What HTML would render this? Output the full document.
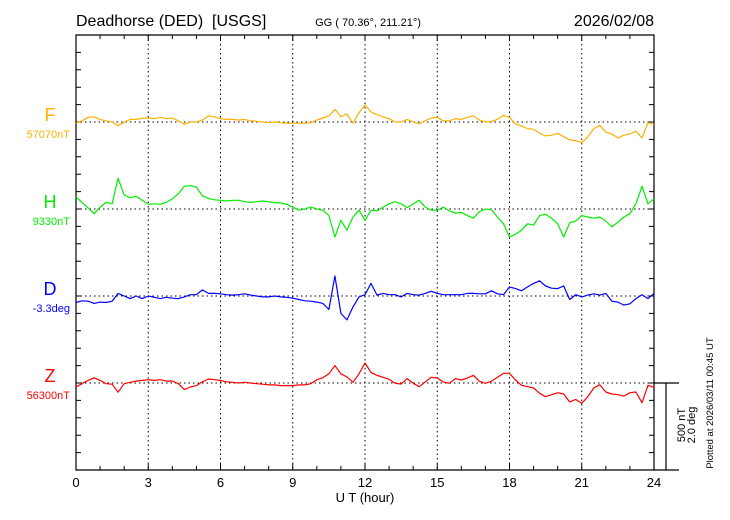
<!DOCTYPE html>
<html><head><meta charset="utf-8"><style>
html,body{margin:0;padding:0;background:#fff;}
svg{display:block;font-family:"Liberation Sans",sans-serif;}
</style></head><body>
<svg id="chart" width="730" height="520" viewBox="0 0 730 520">
<text x="76" y="26" font-size="16">Deadhorse (DED)&#160;&#160;[USGS]</text>
<text x="368" y="26" font-size="11" text-anchor="middle">GG ( 70.36°, 211.21°)</text>
<text x="654" y="26" font-size="16" text-anchor="end">2026/02/08</text>
<g id="grid"></g>
<g id="axes"></g>
<g id="series"></g>
<g id="labels"></g>
<text x="365" y="502" font-size="13" text-anchor="middle">U T (hour)</text>
<text transform="translate(685,425) rotate(-90)" font-size="11" text-anchor="middle">500 nT</text>
<text transform="translate(695,425) rotate(-90)" font-size="11" text-anchor="middle">2.0 deg</text>
<text transform="translate(713,403) rotate(-90)" font-size="9.5" text-anchor="middle">Plotted at 2026/03/11 00:45 UT</text>
</svg>
<script>
const xTickLabels = ["0","3","6","9","12","15","18","21","24"];
const channelNames = ["F","H","D","Z"];
const channelBaseLabels = ["57070nT","9330nT","-3.3deg","56300nT"];
const stepHours = 0.25;
const fValues = [-7,7,27,30,15,7,0,-21,-2,15,15,21,23,19,27,19,23,7,-13,0,0,11,35,30,19,15,15,11,15,7,4,0,-4,0,-4,-7,-7,-7,-7,-4,11,23,35,73,30,46,-7,53,98,58,42,30,19,0,0,15,0,-11,7,23,27,7,7,19,15,27,35,11,0,4,15,38,27,-11,-23,-38,-42,-65,-80,-76,-65,-85,-103,-107,-119,-85,-38,-19,-58,-69,-92,-76,-69,-53,-92,-4,-15];
const hValues = [69,38,7,-27,11,38,30,177,80,65,73,50,27,30,27,38,58,88,131,134,126,76,61,53,50,46,50,50,42,38,42,46,42,35,35,27,11,-7,0,11,0,-7,-38,-161,-65,-122,-46,-7,-65,-7,-11,11,30,42,30,7,30,50,11,-7,-7,11,-11,-23,-19,-38,-53,-15,0,-4,-46,-85,-161,-145,-122,-85,-92,-38,-30,-53,-85,-161,-80,-69,-38,-46,-53,-46,-69,-103,-76,-46,-27,30,131,30,58];
const dValues = [-0.15,-0.11,-0.12,-0.17,-0.14,-0.15,-0.12,0.06,0,-0.06,0,-0.06,0,-0.03,-0.06,-0.03,-0.05,-0.06,-0.02,0.03,0.03,0.14,0.06,0.06,0.05,0.03,0.02,0.03,0.05,0.02,0,-0.02,-0.02,0,-0.02,-0.03,-0.05,-0.08,-0.11,-0.12,-0.14,-0.17,-0.31,0.46,-0.40,-0.55,-0.25,-0.02,0.03,0.29,0.02,0.06,0.03,0.03,-0.02,0.06,0.03,0.02,0.06,0.11,0.06,0.03,0.03,0.03,0.03,0.06,0.06,0.05,0.05,0.12,0.05,0.03,0.21,0.17,0.12,0.21,0.29,0.35,0.23,0.18,0.17,0.23,-0.08,0.03,-0.02,0.02,0.05,0.02,0.06,-0.12,-0.14,-0.21,-0.18,-0.06,0.03,-0.06,0.06];
const zValues = [-23,-4,15,30,15,-4,-7,-53,-4,4,11,15,19,15,19,11,11,-4,-38,-23,-15,7,23,19,15,7,4,0,4,0,-4,-7,-11,-11,-15,-15,-15,-11,-11,-4,19,30,53,100,53,35,4,53,115,61,44,33,21,-2,-6,25,-2,-21,6,33,29,6,-2,25,17,29,44,10,-2,10,33,56,56,17,-13,-21,-29,-59,-79,-67,-56,-63,-109,-94,-117,-79,-29,-10,-52,-63,-67,-75,-56,-52,-113,-13,-25];
const seriesList = [fValues,hValues,dValues,zValues];
const seriesColors = ["#ffb000","#00ee00","#0000ff","#ff0000"];
const seriesScale = [500,500,2.0,500]; // units per 5 ticks

const NS="http://www.w3.org/2000/svg";
const X0=76,X1=654,Y0=35,Y1=470;
const tickStep=(Y1-Y0)/25;
const baselines=[Y0+5*tickStep,Y0+10*tickStep,Y0+15*tickStep,Y0+20*tickStep];
function xScale(h){return X0+(X1-X0)*h/24;}
function yScale(i,v){return baselines[i]-v/seriesScale[i]*5*tickStep;}
function mk(tag,attrs,parent){const e=document.createElementNS(NS,tag);for(const k in attrs)e.setAttribute(k,attrs[k]);parent.appendChild(e);return e;}
const grid=document.getElementById('grid'),axes=document.getElementById('axes'),ser=document.getElementById('series'),lab=document.getElementById('labels');

for(let k=1;k<8;k++){const x=xScale(k*3);
 const l=mk('line',{x1:x,y1:Y0,x2:x,y2:Y1,stroke:'#000','stroke-width':1,'stroke-dasharray':'1.5,3'},grid);
 
 }
baselines.forEach(function(b){
 const l=mk('line',{x1:X0,y1:b,x2:X1,y2:b,stroke:'#000','stroke-width':1,'stroke-dasharray':'1.5,3'},grid);
 
 });

const frame=mk('path',{d:`M${X0},${Y0}H${X1}V${Y1}H${X0}Z`,fill:'none',stroke:'#000','stroke-width':1.2},axes);


const ext=mk('path',{d:`M${X1},${Y1}H679M${X1},${baselines[3]}H679M666,${baselines[3]}V${Y1}`,fill:'none',stroke:'#000','stroke-width':1.2},axes);


let td='';
for(let h=1;h<24;h++){const x=xScale(h);const len=(h%3===0)?6:4;td+=`M${x},${Y0}v${len}M${x},${Y1}v-${len}`;}
for(let k=1;k<25;k++){const y=Y0+k*tickStep;td+=`M${X0},${y}h5M${X1},${y}h-5`;}
const ticks=mk('path',{d:td,stroke:'#000','stroke-width':1,fill:'none'},axes);


xTickLabels.forEach(function(t,i){
 const e=mk('text',{x:xScale(i*3),y:487,'font-size':13,'text-anchor':'middle'},axes);e.textContent=t;
 
 });

seriesList.forEach(function(vals,i){
 let d='';vals.forEach(function(v,j){d+=(j?'L':'M')+xScale(j*stepHours).toFixed(1)+','+yScale(i,v).toFixed(1);});
 const p=mk('path',{d:d,fill:'none',stroke:seriesColors[i],'stroke-width':1.2,'stroke-linejoin':'round'},ser);
 
 
 const t=mk('text',{x:50,y:baselines[i]-1,'font-size':18,'text-anchor':'middle',fill:seriesColors[i]},lab);t.textContent=channelNames[i];
 
 
 const b=mk('text',{x:70,y:baselines[i]+16,'font-size':11,'text-anchor':'end',fill:seriesColors[i]},lab);b.textContent=channelBaseLabels[i];
 
 
});
</script>
</body></html>
